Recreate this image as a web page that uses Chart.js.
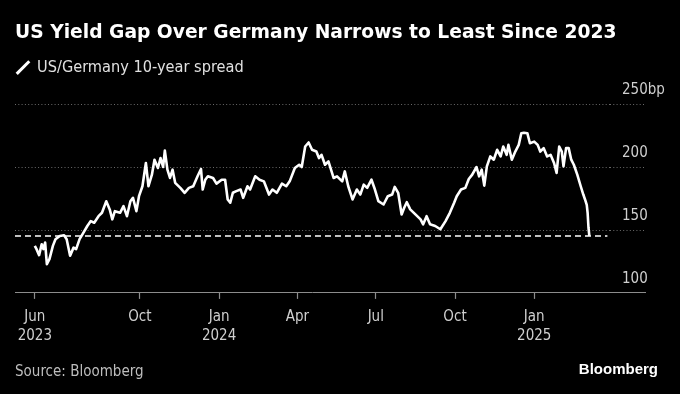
<!DOCTYPE html>
<html>
<head>
<meta charset="utf-8">
<title>US Yield Gap Over Germany</title>
<script src="https://cdn.jsdelivr.net/npm/chart.js@4.4.1/dist/chart.umd.min.js"></script>
<style>
  html, body { margin: 0; padding: 0; background: #000; }
  #wrap { position: relative; width: 680px; height: 394px; }
</style>
</head>
<body>
<div id="wrap"><canvas id="spreadChart"></canvas></div>
<script>
// US/Germany 10-year spread, bp
var dates = [
  '2023-06-01','2023-06-03','2023-06-06','2023-06-09','2023-06-11','2023-06-13','2023-06-15','2023-06-18',
  '2023-06-22','2023-06-25','2023-06-30','2023-07-05','2023-07-08','2023-07-12','2023-07-16','2023-07-19',
  '2023-07-23','2023-07-27','2023-08-01','2023-08-05','2023-08-09','2023-08-14','2023-08-18','2023-08-23',
  '2023-08-27','2023-08-30','2023-09-02','2023-09-08','2023-09-12','2023-09-16','2023-09-20','2023-09-23',
  '2023-09-27','2023-09-30','2023-10-04','2023-10-08','2023-10-11','2023-10-15','2023-10-18','2023-10-22',
  '2023-10-25','2023-10-28','2023-10-30','2023-11-02','2023-11-05','2023-11-08','2023-11-11','2023-11-17',
  '2023-11-22','2023-11-27','2023-12-02','2023-12-07','2023-12-11','2023-12-13','2023-12-16','2023-12-19',
  '2023-12-25','2023-12-29','2024-01-04','2024-01-08','2024-01-11','2024-01-14','2024-01-17','2024-01-21',
  '2024-01-26','2024-01-29','2024-02-03','2024-02-06','2024-02-12','2024-02-17','2024-02-22','2024-02-28',
  '2024-03-03','2024-03-08','2024-03-14','2024-03-19','2024-03-23','2024-03-29','2024-04-03','2024-04-06',
  '2024-04-10','2024-04-14','2024-04-18','2024-04-23','2024-04-26','2024-04-29','2024-05-03','2024-05-07',
  '2024-05-10','2024-05-13','2024-05-17','2024-05-23','2024-05-26','2024-05-30','2024-06-04','2024-06-09',
  '2024-06-13','2024-06-17','2024-06-21','2024-06-26','2024-06-30','2024-07-04','2024-07-10','2024-07-15',
  '2024-07-20','2024-07-23','2024-07-27','2024-07-31','2024-08-03','2024-08-06','2024-08-10','2024-08-16',
  '2024-08-22','2024-08-25','2024-08-29','2024-09-02','2024-09-08','2024-09-14','2024-09-20','2024-09-25',
  '2024-09-30','2024-10-03','2024-10-08','2024-10-13','2024-10-17','2024-10-21','2024-10-26','2024-10-29',
  '2024-11-01','2024-11-04','2024-11-07','2024-11-11','2024-11-15','2024-11-19','2024-11-23','2024-11-26',
  '2024-11-30','2024-12-02','2024-12-06','2024-12-10','2024-12-14','2024-12-17','2024-12-20','2024-12-24',
  '2024-12-27','2025-01-01','2025-01-05','2025-01-08','2025-01-12','2025-01-16','2025-01-20','2025-01-24',
  '2025-01-27','2025-01-30','2025-02-02','2025-02-04','2025-02-07','2025-02-10','2025-02-13','2025-02-16',
  '2025-02-20','2025-02-24','2025-02-27','2025-03-01','2025-03-03','2025-03-04','2025-03-05','2025-03-06'
];
var spread = [
  137.4,134.8,130.0,138.7,134.8,140.0,122.9,126.9,
  137.4,142.7,145.3,145.8,142.7,129.5,136.0,134.8,
  142.7,147.4,153.2,157.1,155.8,161.0,163.7,172.9,
  166.4,158.5,165.0,163.7,169.0,161.0,172.9,175.6,
  165.0,176.9,184.8,203.3,184.8,194.0,205.9,199.3,
  207.2,200.1,213.2,198.0,191.4,198.0,187.5,183.5,
  179.6,183.5,184.8,192.7,198.5,182.2,190.0,192.7,
  191.4,186.9,190.0,190.0,174.3,171.7,179.6,180.9,
  182.2,175.6,184.8,182.2,192.7,190.0,188.7,178.2,
  182.2,179.6,186.9,184.8,188.7,199.3,201.9,200.1,
  216.4,219.6,213.8,212.4,207.2,209.8,201.9,204.5,
  198.0,191.4,192.7,188.7,196.6,184.8,174.3,182.2,
  178.2,186.1,183.5,190.0,182.2,172.9,170.3,176.9,
  178.2,184.3,179.6,162.4,167.7,172.1,166.4,162.4,
  158.5,154.5,161.0,154.5,153.2,150.6,157.1,163.7,
  171.7,176.9,182.2,183.5,190.6,194.0,200.1,192.7,
  198.0,185.3,200.6,208.5,205.9,213.8,208.5,216.4,
  209.8,217.7,205.9,212.4,217.7,227.0,227.4,227.0,
  219.0,220.3,217.7,212.4,215.1,208.5,209.8,203.3,
  195.4,216.4,212.4,200.6,215.1,215.1,205.9,201.9,
  194.0,184.8,178.2,174.3,170.0,163.7,152.0,145.3
];

var tickDates = ['2023-06-01','2023-10-01','2024-01-01','2024-04-01','2024-07-01','2024-10-01','2025-01-01'];
var tickLabels = [['Jun','2023'],'Oct',['Jan','2024'],'Apr','Jul','Oct',['Jan','2025']];
var yTicks = [100, 150, 200, 250];

var xMin = '2023-05-09';
var xMax = '2025-03-30';
var refLineEnd = '2025-03-27';

var FONT = '"DejaVu Sans Condensed", "DejaVu Sans", sans-serif';

function day(s) {
  return Date.parse(s) / 86400000;
}

var lastValue = spread[spread.length - 1];
var points = dates.map(function (d, i) { return {x: day(d), y: spread[i]}; });

var bloombergMark = {
  id: 'bloombergMark',
  afterDraw: function (chart) {
    var ctx = chart.ctx;
    ctx.save();
    ctx.fillStyle = '#ffffff';
    ctx.font = 'bold 15px "Liberation Sans", Arial, sans-serif';
    ctx.textAlign = 'right';
    ctx.textBaseline = 'middle';
    ctx.fillText('Bloomberg', 658, 370);
    ctx.restore();
  }
};

var gridColor = function (c) {
  return c.tick && c.tick.value === 100 ? '#8c8c8c' : '#6a6a6a';
};
var gridDash = function (c) {
  return c.tick && c.tick.value === 100 ? [] : [1, 2.3];
};

var ctx = document.getElementById('spreadChart').getContext('2d');
var spreadChart = new Chart(ctx, {
  type: 'line',
  data: {
    datasets: [{
      label: 'US/Germany 10-year spread',
      data: points,
      borderColor: '#ffffff',
      borderWidth: 2.6,
      borderJoinStyle: 'round',
      pointRadius: 0,
      tension: 0
    }, {
      label: 'latest',
      data: [{x: day(xMin), y: lastValue}, {x: day(refLineEnd), y: lastValue}],
      borderColor: '#ffffff',
      borderWidth: 1.6,
      borderDash: [6, 4],
      pointRadius: 0
    }]
  },
  options: {
    responsive: true,
    maintainAspectRatio: false,
    animation: false,
    layout: {
      padding: {left: 15, right: 15, top: 0, bottom: 0}
    },
    plugins: {
      title: {
        display: true,
        text: 'US Yield Gap Over Germany Narrows to Least Since 2023',
        align: 'start',
        color: '#ffffff',
        font: {family: '"DejaVu Sans", sans-serif', weight: 'bold', size: 18.7},
        padding: {top: 22, bottom: 13}
      },
      legend: {
        display: true,
        position: 'top',
        align: 'start',
        labels: {
          usePointStyle: true,
          boxWidth: 12,
          boxHeight: 12.6,
          padding: 2,
          color: '#e0e0e0',
          font: {family: FONT, size: 16.2},
          generateLabels: function () {
            return [{
              text: 'US/Germany 10-year spread',
              fillStyle: '#ffffff',
              strokeStyle: '#ffffff',
              lineWidth: 3,
              pointStyle: 'line',
              rotation: -45,
              fontColor: '#e0e0e0',
              hidden: false,
              datasetIndex: 0
            }];
          }
        }
      },
      subtitle: {
        display: true,
        position: 'bottom',
        align: 'start',
        text: 'Source: Bloomberg',
        color: '#bdbdbd',
        font: {family: FONT, size: 15},
        padding: {top: 8.5, bottom: 13}
      },
      tooltip: {enabled: false}
    },
    scales: {
      x: {
        type: 'linear',
        min: day(xMin),
        max: day(xMax),
        afterBuildTicks: function (scale) {
          scale.ticks = tickDates.map(function (d) { return {value: day(d)}; });
        },
        ticks: {
          autoSkip: false,
          maxRotation: 0,
          padding: 9.5,
          color: '#cfcfcf',
          font: {family: FONT, size: 15, lineHeight: 1.22},
          callback: function (value, index) { return tickLabels[index]; }
        },
        grid: {
          display: true,
          drawOnChartArea: false,
          drawTicks: true,
          tickLength: 6,
          tickColor: '#8c8c8c',
          tickWidth: 1.2
        },
        border: {display: false}
      },
      y: {
        position: 'right',
        min: 100,
        max: 264.8,
        afterBuildTicks: function (scale) {
          scale.ticks = yTicks.map(function (v) { return {value: v}; });
        },
        afterFit: function (scale) {
          scale.width = 55;
        },
        ticks: {
          crossAlign: 'near',
          padding: -24,
          labelOffset: -14,
          color: '#cfcfcf',
          font: {family: FONT, size: 15},
          callback: function (value) { return value === 250 ? '250bp' : value; }
        },
        grid: {
          color: gridColor,
          lineWidth: 1,
          drawTicks: true,
          tickLength: 36,
          tickColor: gridColor,
          tickWidth: 1,
          tickBorderDash: gridDash
        },
        border: {display: false, dash: gridDash}
      }
    }
  },
  plugins: [bloombergMark]
});
</script>
</body>
</html>
